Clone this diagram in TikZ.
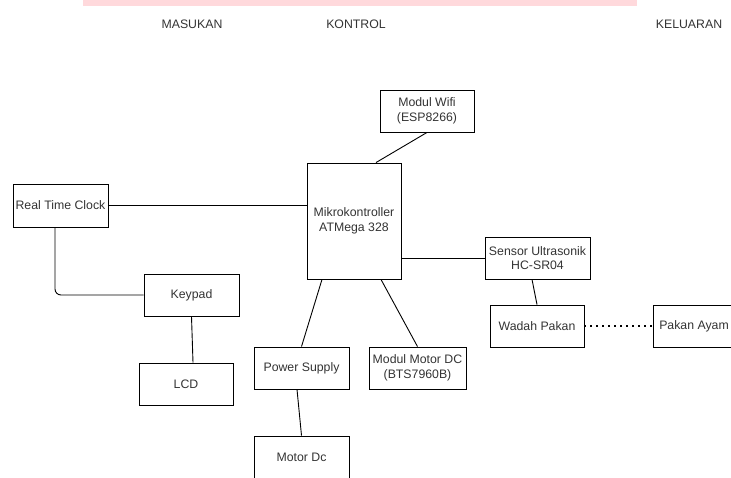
\documentclass[tikz,border=0pt]{standalone}
\usepackage{fontspec}
\setmainfont{Liberation Sans}
\definecolor{barpink}{RGB}{255,217,220}
\definecolor{teks}{RGB}{51,51,51}

\begin{document}
\begin{tikzpicture}[x=1pt,y=-1pt,
  blok/.style={draw, line width=0.9pt, text=teks, align=center, inner sep=0pt,
    minimum width=95pt, minimum height=42pt, font=\fontsize{12.3}{14.5}\selectfont},
  judul/.style={text=teks, font=\fontsize{12.3}{14.5}\selectfont},
  garis/.style={line width=0.9pt}]
\useasboundingbox (0,0) rectangle (731,477);
\clip (0,0) rectangle (731,477);
\fill[barpink] (83,0) rectangle (637,6);
\node[judul] (masukan) at (192,24) {MASUKAN};
\node[judul] (kontrol) at (356,24) {KONTROL};
\node[judul] (keluaran) at (689,24) {KELUARAN};
\node[blok, minimum height=43pt] (rtc) at (60.5,205.5) {Real Time Clock};
\node[blok, minimum width=94pt, minimum height=116pt] (mikro) at (354,221) {Mikrokontroller\\ATMega 328};
\node[blok, minimum width=94pt] (wifi) at (427,111) {Modul Wifi\\(ESP8266)};
\node[blok, minimum width=105pt] (sensor) at (537.5,258) {Sensor Ultrasonik\\HC-SR04};
\node[blok] (keypad) at (191.5,295) {Keypad};
\node[blok, minimum width=94pt] (lcd) at (186,384) {LCD};
\node[blok] (psu) at (301.5,368) {Power Supply};
\node[blok, minimum width=97pt] (driver) at (417.5,368) {Modul Motor DC\\(BTS7960B)};
\node[blok] (motordc) at (301.5,457) {Motor Dc};
\node[blok, minimum width=94pt] (wadah) at (537,326) {Wadah Pakan};
\node[blok, minimum width=82pt] (pakan) at (694,326) {Pakan Ayam};
\draw[garis] (rtc.east) -- (mikro.west |- rtc.east);
\draw[garis, rounded corners=6pt] ([xshift=-5.5pt]rtc.south) |- (keypad.west);
\draw[garis] ([xshift=22pt]mikro.north) -- (wifi.south);
\draw[garis] ([yshift=-37pt]mikro.east) -- (sensor.west);
\draw[garis] ([xshift=-32pt]mikro.south) -- (psu.north);
\draw[garis] ([xshift=27pt]mikro.south) -- (driver.north);
\draw[garis] (keypad.south) -- ([xshift=7pt]lcd.north);
\draw[garis] ([xshift=-4.5pt]psu.south) -- (motordc.north);
\draw[garis] ([xshift=-5.5pt]sensor.south) -- (wadah.north);
\draw[line width=1.5pt, dash pattern=on 1.5pt off 4.5pt] (wadah.east) -- (pakan.west);
\end{tikzpicture}
\end{document}
